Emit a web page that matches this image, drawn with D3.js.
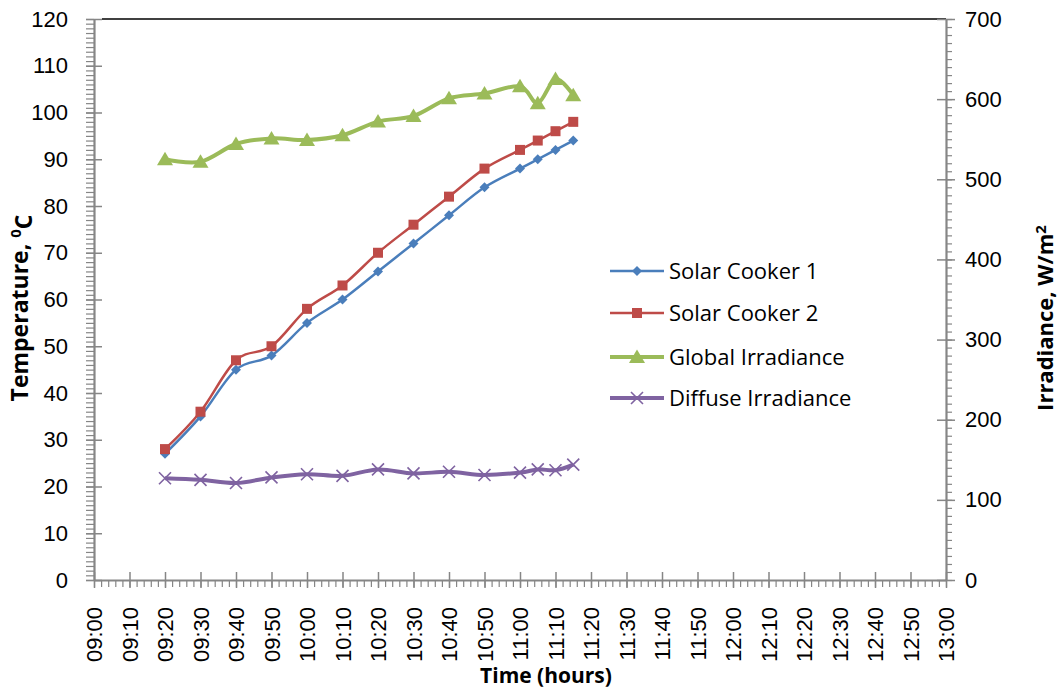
<!DOCTYPE html>
<html>
<head>
<meta charset="utf-8">
<script src="https://cdn.jsdelivr.net/npm/d3@7"></script>
<style>
  body { margin: 0; background: #fff; }
  svg { font-family: "Open Sans", Lato, sans-serif; }
  .axis path, .axis line { stroke: #868686; }
  .axis text { fill: #000; }
</style>
</head>
<body>
<svg id="chart" width="1061" height="692"></svg>
<script>
// time of each reading
const times = ['09:20', '09:30', '09:40', '09:50', '10:00', '10:10', '10:20', '10:30',
  '10:40', '10:50', '11:00', '11:05', '11:10', '11:15'];
// temperatures (left axis, degC)
const cooker1 = [27, 35, 45, 48, 55, 60, 66, 72, 78, 84, 88, 90, 92, 94];
const cooker2 = [28, 36, 47, 50, 58, 63, 70, 76, 82, 88, 92, 94, 96, 98];
// irradiance (right axis, W/m2)
const globalIrr = [525, 522, 544, 551, 549, 555, 572, 579, 601, 607, 616, 595, 625, 605];
const diffuseIrr = [127, 125, 121, 128, 132, 130, 138, 133, 135, 131, 134, 138, 137, 144];

const xTicks = d3.range(540, 781, 10); // minutes since midnight, 09:00 - 13:00
const leftTicks = d3.range(0, 121, 10);
const rightTicks = d3.range(0, 701, 100);

const toMin = s => { let p = s.split(':'); return +p[0] * 60 + +p[1]; };
const fmtTime = m => String(Math.floor(m / 60)).padStart(2, '0') + ':' + String(m % 60).padStart(2, '0');

const svg = d3.select('#chart');
const plotL = 94, plotR = 946, plotT = 19, plotB = 580;

let x = d3.scaleLinear().domain([540, 780]).range([plotL, plotR]);
let yL = d3.scaleLinear().domain([0, 120]).range([plotB, plotT]);
let yR = d3.scaleLinear().domain([0, 700]).range([plotB, plotT]);

//black top border of the plot area
svg.append('line')
  .attr('x1', plotL + 8).attr('x2', plotR)
  .attr('y1', plotT).attr('y2', plotT)
  .attr('stroke', '#000').attr('stroke-width', 1.5);

//minor ticks first so the major ones sit on top
svg.append('g').attr('class', 'axis').attr('transform', `translate(${plotL},0)`)
  .call(d3.axisLeft(yL).tickValues(d3.range(0, 121, 1)).tickSize(8).tickFormat(''))
  .call(g => g.select('.domain').remove())
  .selectAll('line').attr('stroke-width', 1.2);

svg.append('g').attr('class', 'axis').attr('transform', `translate(${plotR},0)`)
  .call(d3.axisRight(yR).tickValues(d3.range(0, 701, 10)).tickSize(6).tickFormat(''))
  .call(g => g.select('.domain').remove())
  .selectAll('line').attr('stroke-width', 1.2);

svg.append('g').attr('class', 'axis').attr('transform', `translate(0,${plotB})`)
  .call(d3.axisBottom(x).tickValues(d3.range(540, 781, 2)).tickSize(7).tickFormat(''))
  .call(g => g.select('.domain').remove())
  .selectAll('line').attr('stroke-width', 1.2);

//left axis
let gL = svg.append('g').attr('class', 'axis').attr('transform', `translate(${plotL},0)`)
  .call(d3.axisLeft(yL).tickValues(leftTicks).tickSize(8).tickPadding(18).tickSizeOuter(0));
gL.selectAll('.tick line').attr('x1', 8).attr('stroke-width', 1.5);
gL.select('.domain').attr('stroke-width', 2.2);
gL.selectAll('text').style('font-size', '22px');

//right axis
let gR = svg.append('g').attr('class', 'axis').attr('transform', `translate(${plotR},0)`)
  .call(d3.axisRight(yR).tickValues(rightTicks).tickSize(9).tickPadding(10).tickSizeOuter(0));
gR.selectAll('.tick line').attr('x1', -9).attr('stroke-width', 1.5);
gR.select('.domain').attr('stroke-width', 2.2);
gR.selectAll('text').style('font-size', '22px');

//bottom axis with rotated time labels
let gX = svg.append('g').attr('class', 'axis').attr('transform', `translate(0,${plotB})`)
  .call(d3.axisBottom(x).tickValues(xTicks).tickSize(8).tickFormat(fmtTime).tickSizeOuter(0));
gX.selectAll('.tick line').attr('y1', -8).attr('stroke-width', 1.5);
gX.select('.domain').attr('stroke-width', 2.2);
gX.selectAll('text')
  .style('font-size', '22px')
  .attr('text-anchor', 'end')
  .attr('transform', 'rotate(-90)')
  .attr('x', -27).attr('y', 0).attr('dy', '0.35em');

//axis titles
svg.append('text').text('Time (hours)')
  .attr('x', 546).attr('y', 683).attr('text-anchor', 'middle')
  .style('font-size', '21px').style('font-weight', 'bold');

let tL = svg.append('text')
  .attr('transform', 'translate(28,308)rotate(-90)').attr('text-anchor', 'middle')
  .style('font-size', '23px').style('font-weight', 'bold');
tL.append('tspan').text('Temperature, ');
tL.append('tspan').text('0').attr('dy', '-0.45em').style('font-size', '15px');
tL.append('tspan').text('C').attr('dy', '0.45em');

let tR = svg.append('text')
  .attr('transform', 'translate(1053,318)rotate(-90)').attr('text-anchor', 'middle')
  .style('font-size', '22px').style('font-weight', 'bold');
tR.append('tspan').text('Irradiance, W/m');
tR.append('tspan').text('2').attr('dy', '-0.45em').style('font-size', '15px');

//series setup
const series = [
  { name: 'Solar Cooker 1', values: cooker1, y: yL, color: '#4A7EBB', width: 2.5, marker: 'diamond' },
  { name: 'Solar Cooker 2', values: cooker2, y: yL, color: '#BE4B48', width: 2.5, marker: 'square' },
  { name: 'Global Irradiance', values: globalIrr, y: yR, color: '#9BBB59', width: 4, marker: 'triangle' },
  { name: 'Diffuse Irradiance', values: diffuseIrr, y: yR, color: '#7F63A1', width: 4, marker: 'cross' }
];

function drawMarker(g, type, color) {
  if (type == 'diamond') {
    g.append('path').attr('d', 'M0,-5L5,0L0,5L-5,0Z').attr('fill', color);
  } else if (type == 'square') {
    g.append('rect').attr('x', -5).attr('y', -5).attr('width', 10).attr('height', 10).attr('fill', color);
  } else if (type == 'triangle') {
    g.append('path').attr('d', 'M0,-7.5L8,6L-8,6Z').attr('fill', color);
  } else {
    g.append('path').attr('d', 'M-6,-6L6,6M-6,6L6,-6').attr('stroke', color).attr('stroke-width', 1.6).attr('fill', 'none');
  }
}

series.forEach(s => {
  let pts = times.map((t, i) => [x(toMin(t)), s.y(s.values[i])]);
  let lineFn = d3.line().curve(d3.curveCatmullRom.alpha(0));
  svg.append('path')
    .attr('d', lineFn(pts))
    .attr('fill', 'none')
    .attr('stroke', s.color)
    .attr('stroke-width', s.width)
    .attr('stroke-linejoin', 'round');
  svg.append('g').selectAll('g')
    .data(pts)
    .join('g')
    .attr('transform', d => `translate(${d[0]},${d[1]})`)
    .each(function () { drawMarker(d3.select(this), s.marker, s.color); });
});

//legend
let legend = svg.append('g').attr('transform', 'translate(610,271)');
let rows = legend.selectAll('g').data(series).join('g')
  .attr('transform', (d, i) => `translate(0,${[0, 42, 86, 127][i]})`);
rows.append('line').attr('x1', 0).attr('x2', 54).attr('y1', 0).attr('y2', 0)
  .attr('stroke', d => d.color).attr('stroke-width', d => d.width);
rows.each(function (d) {
  let m = d3.select(this).append('g').attr('transform', 'translate(27,0)');
  drawMarker(m, d.marker, d.color);
});
rows.append('text').text(d => d.name)
  .attr('x', 59).attr('y', 0).attr('dy', '0.35em')
  .style('font-size', '22px');
</script>
</body>
</html>
